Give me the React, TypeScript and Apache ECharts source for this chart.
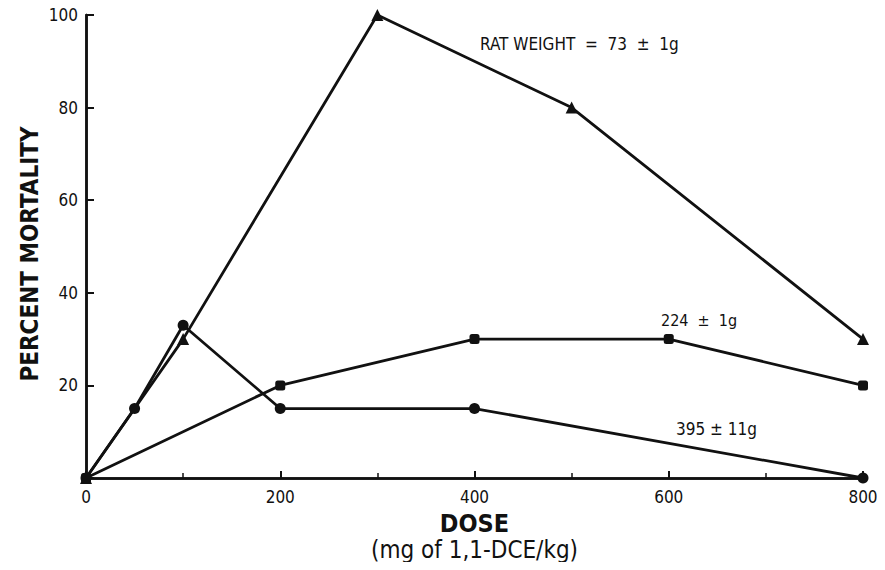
import React, { useEffect, useRef } from "react";
import * as echarts from "echarts";

const doseTicks = [0, 200, 400, 600, 800];
const mortalityTicks = [20, 40, 60, 80, 100];

const rat73Dose = [0, 100, 300, 500, 800];
const rat73Mortality = [0, 30, 100, 80, 30];

const rat224Dose = [0, 200, 400, 600, 800];
const rat224Mortality = [0, 20, 30, 30, 20];

const rat395Dose = [0, 50, 100, 200, 400, 800];
const rat395Mortality = [0, 15, 33, 15, 15, 0];

const seriesLabels = ["RAT WEIGHT  =  73  ±  1g", "224  ±  1g", "395 ± 11g"];
const yAxisTitle = "PERCENT MORTALITY";

const FONT = "'DejaVu Sans Condensed', 'Liberation Sans Narrow', 'DejaVu Sans', sans-serif";

const zip = (xs: number[], ys: number[]) => xs.map((x, i) => [x, ys[i]]);

export default function App() {
  const ref = useRef<HTMLDivElement>(null);
  useEffect(() => {
    if (!ref.current) return;
    const chart = echarts.init(ref.current, undefined, { renderer: "svg" });
    const lineStyle = { color: "#111", width: 2.8 };
    const common = {
      type: "line" as const,
      symbolKeepAspect: true,
      clip: false,
      lineStyle,
      itemStyle: { color: "#111" },
      z: 5,
    };
    chart.setOption({
      animation: false,
      backgroundColor: "#fff",
      grid: { left: 86, top: 15, width: 777, height: 463, containLabel: false },
      xAxis: [
        {
          type: "value",
          min: 0,
          max: 800,
          interval: 200,
          axisLine: { lineStyle: { color: "#111", width: 2.5 } },
          axisTick: { inside: true, length: 7, lineStyle: { color: "#111", width: 2 } },
          minorTick: { show: true, splitNumber: 2, length: 5, lineStyle: { color: "#111", width: 1.5 } },
          splitLine: { show: false },
          axisLabel: {
            color: "#111",
            fontFamily: FONT,
            fontSize: 17,
            margin: 10,
            formatter: (v: number) => (doseTicks.includes(v) ? String(v) : ""),
          },
          name: "{a|DOSE}\n{b|(mg of 1,1-DCE/kg)}",
          nameLocation: "middle",
          nameGap: 32,
          nameTextStyle: {
            verticalAlign: "top",
            rich: {
              a: { fontFamily: FONT, fontSize: 25, fontWeight: "bold", color: "#111", lineHeight: 26, align: "center" },
              b: { fontFamily: FONT, fontSize: 24, color: "#111", lineHeight: 28, align: "center" },
            },
          },
        },
        {
          type: "value",
          position: "top",
          min: 0,
          max: 800,
          axisLine: { show: true, lineStyle: { color: "#111", width: 2.5 } },
          axisTick: { show: false },
          axisLabel: { show: false },
          splitLine: { show: false },
        },
      ],
      yAxis: [
        {
          type: "value",
          min: 0,
          max: 100,
          interval: 20,
          axisLine: { show: true, lineStyle: { color: "#111", width: 2.5 } },
          axisTick: { inside: true, length: 8, lineStyle: { color: "#111", width: 2 } },
          splitLine: { show: false },
          axisLabel: {
            color: "#111",
            fontFamily: FONT,
            fontSize: 17,
            margin: 8,
            formatter: (v: number) => (mortalityTicks.includes(v) ? String(v) : ""),
          },
        },
        {
          type: "value",
          position: "right",
          min: 0,
          max: 100,
          axisLine: { show: true, lineStyle: { color: "#111", width: 2.5 } },
          axisTick: { show: false },
          axisLabel: { show: false },
          splitLine: { show: false },
        },
      ],
      series: [
        {
          ...common,
          name: seriesLabels[0],
          data: zip(rat73Dose, rat73Mortality),
          symbol: "triangle",
          symbolSize: 12,
        },
        {
          ...common,
          name: seriesLabels[1],
          data: zip(rat224Dose, rat224Mortality),
          symbol: "roundRect",
          symbolSize: 10,
        },
        {
          ...common,
          name: seriesLabels[2],
          data: zip(rat395Dose, rat395Mortality),
          symbol: "circle",
          symbolSize: 11,
        },
      ],
      graphic: [
        {
          type: "text",
          x: 30,
          y: 254,
          rotation: Math.PI / 2,
          style: {
            text: yAxisTitle,
            fontFamily: FONT,
            fontSize: 24,
            fontWeight: "bold",
            fill: "#111",
            align: "center",
            verticalAlign: "middle",
          },
        },
        {
          type: "text",
          left: 480,
          top: 35,
          style: { text: seriesLabels[0], fontFamily: FONT, fontSize: 17, fill: "#111" },
        },
        {
          type: "text",
          left: 661,
          top: 312,
          style: { text: seriesLabels[1], fontFamily: FONT, fontSize: 16, fill: "#111" },
        },
        {
          type: "text",
          left: 676,
          top: 420,
          style: { text: seriesLabels[2], fontFamily: FONT, fontSize: 17, fill: "#111" },
        },
      ],
    });
    return () => chart.dispose();
  }, []);
  return <div ref={ref} style={{ width: 885, height: 570, margin: -8 }} />;
}
